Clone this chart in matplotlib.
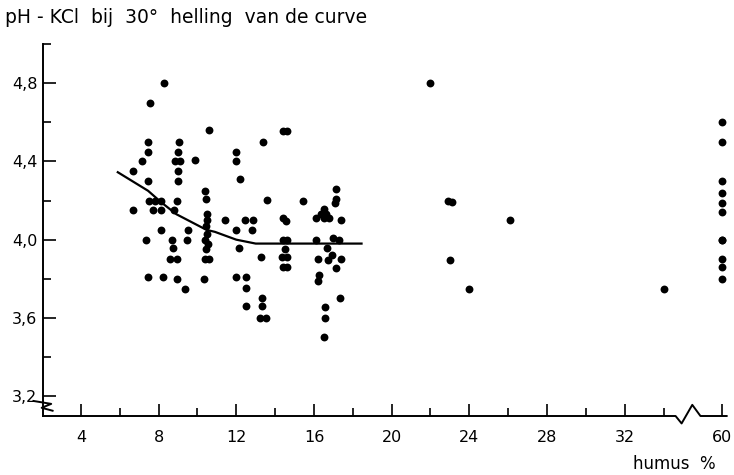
import matplotlib.pyplot as plt
import matplotlib.transforms as mtransforms
import numpy as np

# humus (%) and pH-KCl of the individual samples
humus = [
    8.3, 7.55, 10.6, 7.45, 9.05, 7.45, 9.0, 7.15, 8.85, 9.1, 9.85, 6.7, 9.0,
    7.45, 9.0, 10.4, 10.45, 7.5, 7.8, 8.1, 8.95, 6.7, 7.7, 8.15, 8.8, 10.5,
    10.5, 8.15, 9.5, 10.45, 10.5, 7.35, 8.7, 9.45, 10.4, 10.55, 8.75, 10.45,
    8.6, 8.95, 10.4, 10.6, 7.45, 8.25, 8.95, 10.35, 9.35,
    11.4, 12.0, 12.0, 12.2, 12.45, 12.85, 12.0, 12.8, 12.15, 12.0, 12.5, 12.5,
    12.5, 13.4, 13.6, 13.25, 13.3, 13.3, 13.2, 13.55,
    14.4, 14.6, 14.4, 14.55, 14.4, 14.6, 14.5, 14.35, 14.6, 14.4, 14.6, 15.45,
    16.5, 16.35, 16.6, 16.1, 16.5, 16.8, 17.4, 17.15, 17.15, 17.1, 17.0, 17.3,
    16.1, 16.65, 16.2, 16.7, 16.95, 17.4, 17.15, 16.25, 16.2, 17.35, 16.55,
    16.55, 16.5,
    22.0, 22.9, 23.1, 26.1, 23.0, 24.0, 34.0,
    60, 60, 60, 60, 60, 60, 60, 60, 60, 60, 60,
]
ph = [
    4.80, 4.70, 4.56, 4.50, 4.50, 4.45, 4.45, 4.40, 4.40, 4.40, 4.41, 4.35, 4.35,
    4.30, 4.30, 4.25, 4.21, 4.20, 4.20, 4.20, 4.20, 4.15, 4.15, 4.15, 4.15, 4.13,
    4.10, 4.05, 4.05, 4.07, 4.03, 4.00, 4.00, 4.00, 4.00, 3.98, 3.955, 3.95,
    3.90, 3.90, 3.90, 3.90, 3.81, 3.81, 3.80, 3.80, 3.75,
    4.10, 4.45, 4.40, 4.31, 4.10, 4.10, 4.05, 4.05, 3.955, 3.81, 3.81, 3.755,
    3.66, 4.50, 4.205, 3.91, 3.70, 3.66, 3.60, 3.60,
    4.555, 4.555, 4.11, 4.095, 4.00, 4.00, 3.95, 3.91, 3.91, 3.86, 3.86, 4.20,
    4.155, 4.13, 4.13, 4.11, 4.11, 4.11, 4.10, 4.26, 4.21, 4.19, 4.01, 4.00,
    4.00, 3.955, 3.90, 3.895, 3.92, 3.90, 3.855, 3.82, 3.79, 3.70, 3.655,
    3.60, 3.50,
    4.80, 4.20, 4.195, 4.10, 3.895, 3.75, 3.75,
    4.60, 4.50, 4.30, 4.24, 4.19, 4.14, 4.00, 4.00, 3.90, 3.86, 3.80,
]

# fitted trend line
curve_x = [5.9, 7.46, 8.15, 8.92, 10.47, 10.9, 12.0, 13.0, 18.45]
curve_y = [4.345, 4.25, 4.19, 4.13, 4.05, 4.04, 4.0, 3.98, 3.98]

x_ticks = [4, 8, 12, 16, 20, 24, 28, 32, 60]
y_ticks = [3.2, 3.6, 4.0, 4.4, 4.8]


def axis_pos(h):
    # the axis is broken after 34: the 60 % samples sit just past the break
    h = np.asarray(h, dtype=float)
    return np.where(h > 36, 37.0, h)


fig = plt.figure(figsize=(7.34, 4.75), dpi=100)
ax = fig.add_axes([0.0586, 0.1242, 0.9314, 0.7828])

ax.scatter(axis_pos(humus), ph, s=32, color="black", linewidths=0, zorder=3)
ax.plot(curve_x, curve_y, color="black", lw=1.6, zorder=2)

ax.set_xlim(2.05, 37.25)
ax.set_ylim(3.098, 5.0)

ax.set_xticks(axis_pos(x_ticks))
ax.set_xticklabels([str(t) for t in x_ticks])
ax.set_xticks([6, 10, 14, 18, 22, 26, 30, 34], minor=True)
ax.set_yticks(y_ticks)
ax.set_yticklabels([f"{t:.1f}".replace(".", ",") for t in y_ticks])
ax.set_yticks([3.4, 3.8, 4.2, 4.6, 5.0], minor=True)

ax.tick_params(axis="both", which="major", direction="in", length=9,
               width=1.2, labelsize=11.5, colors="black")
ax.tick_params(axis="both", which="minor", direction="in", length=6,
               width=1.2)
ax.tick_params(axis="x", which="major", pad=10)
ax.tick_params(axis="y", which="major", pad=4)

for side in ("top", "right", "bottom"):
    ax.spines[side].set_visible(False)
ax.spines["left"].set_linewidth(1.4)

# bottom axis line with the zigzag break between 34 and 60
trans_x = mtransforms.blended_transform_factory(ax.transData, ax.transAxes)
bx = [2.05, 34.62, 34.93, 35.48, 35.9, 37.25]
by = [0.0, 0.0, -0.02, 0.03, 0.0, 0.0]
ax.plot(bx, by, color="black", lw=1.4, transform=trans_x, clip_on=False,
        zorder=4)

# break mark on the vertical axis below 3,2
trans_y = mtransforms.blended_transform_factory(ax.transAxes, ax.transData)
zx = [-0.014, 0.012, -0.002, 0.014]
zy = [3.175, 3.16, 3.14, 3.125]
ax.plot(zx, zy, color="black", lw=1.4, transform=trans_y, clip_on=False)

fig.text(0.007, 0.952, "pH - KCl  bij  30°  helling  van de curve",
         fontsize=13.5, ha="left", va="baseline")
fig.text(0.862, 0.012, "humus  %", fontsize=12, ha="left", va="baseline")

fig.savefig("out.png", dpi=100, facecolor="white")
